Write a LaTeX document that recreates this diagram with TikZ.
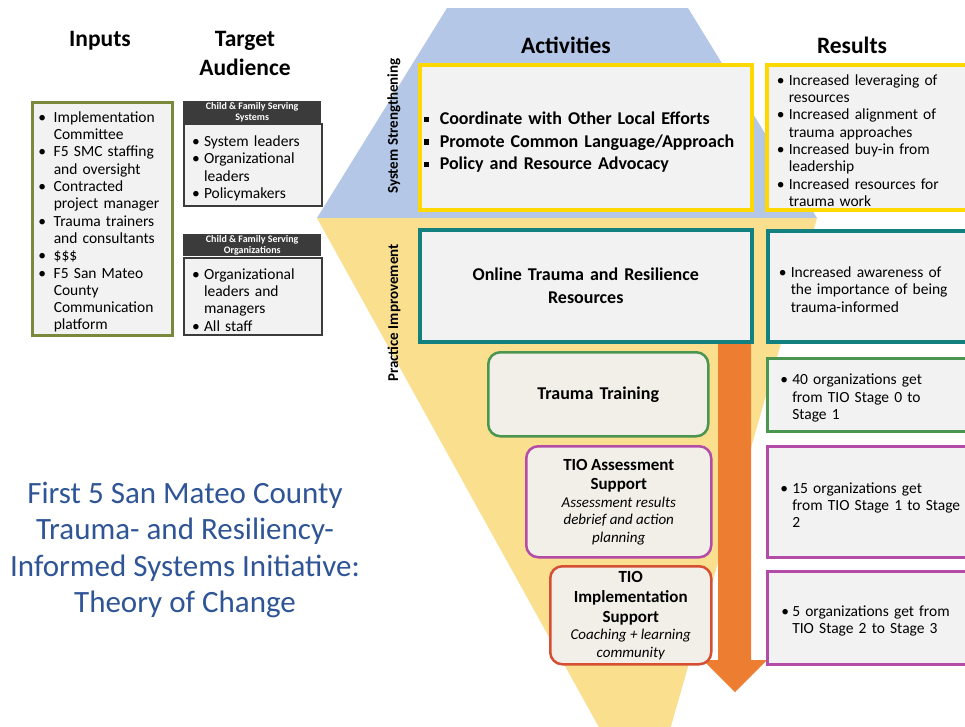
\documentclass[tikz,border=0pt]{standalone}
\usepackage{fontspec}
\setmainfont{Carlito}
\definecolor{trapblue}{HTML}{B4C7E7}
\definecolor{funnelyel}{HTML}{FADF8F}
\definecolor{boxgray}{HTML}{F2F2F2}
\definecolor{creamfill}{HTML}{F1EFE8}
\definecolor{yelborder}{HTML}{FFD800}
\definecolor{tealborder}{HTML}{12807E}
\definecolor{greenborder}{HTML}{4A9650}
\definecolor{magborder}{HTML}{B44BA6}
\definecolor{redborder}{HTML}{D64F33}
\definecolor{arroworange}{HTML}{ED7D31}
\definecolor{oliveborder}{HTML}{7A8A3C}
\definecolor{darkhdr}{HTML}{3B3B3B}
\definecolor{titleblue}{HTML}{2F5597}
\newcommand\bodyfont{\fontsize{15.5}{17.3}\selectfont}
\newcommand\actfont{\fontsize{18}{22.5}\selectfont\bfseries}
\newlength\bhang
\newcommand\myb{\par\noindent\hangindent=\bhang\hangafter=1\makebox[\bhang][l]{\textbullet}}
\newcommand\mysq{\par\noindent\hangindent=16pt\hangafter=1\makebox[16pt][l]{\rule[2.5pt]{5.5pt}{5.5pt}}}
\tikzset{
  framebox/.style={draw, fill=boxgray, anchor=north west, inner ysep=0pt, align=left, font=\bodyfont},
  hdrtext/.style={font=\fontsize{23.5}{29}\selectfont\bfseries, align=center},
  roundbox/.style={draw, fill=creamfill, rounded corners=12pt, line width=2.5pt, anchor=north west, align=center, inner sep=0pt},
  sidelabel/.style={rotate=90, font=\fontsize{15}{18}\selectfont\bfseries},
  tahdr/.style={fill=darkhdr, text=white, anchor=north west, inner sep=0pt, minimum width=138pt, minimum height=22pt, align=center, font=\fontsize{10}{10.5}\selectfont\bfseries},
}
\begin{document}
\begin{tikzpicture}[x=1pt,y=-1pt]
\useasboundingbox (0,0) rectangle (965,726);
\clip (0,0) rectangle (965,726);
\fill[white] (0,0) rectangle (965,726);
% background shapes
\fill[trapblue] (447,8) -- (688,8) -- (817,218) -- (317,218) -- cycle;
\fill[funnelyel] (317,218) -- (817,218) -- (667,740) -- (606,740) -- cycle;
\fill[arroworange] (718,340) -- (751,340) -- (751,660) -- (767,660) -- (735,692) -- (703,660) -- (718,660) -- cycle;
% headers
\node[hdrtext] (hinputs) at (100,41) {Inputs};
\node[hdrtext] (htarget) at (245,53) {Target\\Audience};
\node[hdrtext] (hact) at (566,45) {Activities};
\node[hdrtext] (hres) at (852,45) {Results};
% inputs
\node[framebox, draw=oliveborder, line width=2.5pt, minimum width=140pt, minimum height=233pt, inner xsep=6pt, text width=128pt] (inputs) at (31,101)
{\setlength\bhang{15.5pt}%
 \myb Implementation\newline Committee
 \myb F5 SMC staffing\newline and oversight
 \myb Contracted\newline project manager
 \myb Trauma trainers\newline and consultants
 \myb \$\$\$
 \myb F5 San Mateo\newline County\newline Communication\newline platform\par};
% target audience
\node[tahdr] (tah1) at (183,101) {Child \& Family Serving\\Systems};
\node[framebox, draw=darkhdr, line width=2pt, minimum width=138pt, minimum height=82pt, inner xsep=8pt, text width=122pt] (tab1) at (183,123)
{\setlength\bhang{12pt}%
 \myb System leaders
 \myb Organizational\newline leaders
 \myb Policymakers\par};
\node[tahdr] (tah2) at (183,234) {Child \& Family Serving\\Organizations};
\node[framebox, draw=darkhdr, line width=2pt, minimum width=138pt, minimum height=77pt, inner xsep=8pt, text width=122pt] (tab2) at (183,257)
{\setlength\bhang{12pt}%
 \myb Organizational\newline leaders and\newline managers
 \myb All staff\par};
% side labels
\node[sidelabel] (lsys) at (394,126) {System Strengthening};
\node[sidelabel] (lprac) at (394,313) {Practice Improvement};
% activities
\node[framebox, draw=yelborder, line width=3.5pt, minimum width=332pt, minimum height=145pt, inner xsep=4pt, text width=324pt, font=\actfont] (actsys) at (418,63)
{\mysq Coordinate with Other Local Efforts
 \mysq Promote Common Language/Approach
 \mysq Policy and Resource Advocacy\par};
\node[framebox, draw=tealborder, line width=3.5pt, minimum width=332pt, minimum height=112pt, inner xsep=5pt, text width=322pt, align=center, font=\actfont] (actonline) at (418,228)
{Online Trauma and Resilience\\Resources};
\node[roundbox, draw=greenborder, minimum width=220pt, minimum height=84pt, text width=210pt, font=\actfont] (acttrain) at (487,351) {Trauma Training};
\node[roundbox, draw=magborder, minimum width=185pt, minimum height=111pt, text width=177pt] (actassess) at (525,445)
{{\fontsize{17}{19.5}\selectfont\bfseries TIO Assessment\\Support\par}{\fontsize{15}{17.5}\selectfont\itshape Assessment results\\debrief and action\\planning\par}};
\node[roundbox, draw=redborder, minimum width=161pt, minimum height=98pt, text width=155pt] (actimpl) at (549,565)
{{\fontsize{17}{20}\selectfont\bfseries TIO\\Implementation\\Support\par}{\fontsize{15}{17.5}\selectfont\itshape Coaching + learning\\community\par}};
% results
\node[framebox, draw=yelborder, line width=3.5pt, minimum width=210pt, minimum height=145pt, inner xsep=10pt, text width=190pt] (ressys) at (765,63)
{\setlength\bhang{12pt}%
 \myb Increased leveraging of\newline resources
 \myb Increased alignment of\newline trauma approaches
 \myb Increased buy-in from\newline leadership
 \myb Increased resources for\newline trauma work\par};
\node[framebox, draw=tealborder, line width=3.5pt, minimum width=209pt, minimum height=111pt, inner xsep=11pt, text width=187pt] (resonline) at (766,229)
{\setlength\bhang{12pt}%
 \myb Increased awareness of\newline the importance of being\newline trauma-informed\par};
\node[framebox, draw=greenborder, line width=2.5pt, minimum width=209pt, minimum height=73pt, inner xsep=13pt, text width=183pt] (restrain) at (766,357)
{\setlength\bhang{12pt}%
 \myb 40 organizations get\newline from TIO Stage 0 to\newline Stage 1\par};
\node[framebox, draw=magborder, line width=2.5pt, minimum width=209pt, minimum height=111pt, inner xsep=13pt, text width=183pt] (resassess) at (766,445)
{\setlength\bhang{12pt}%
 \myb 15 organizations get\newline from TIO Stage 1 to Stage\newline 2\par};
\node[framebox, draw=magborder, line width=2.5pt, minimum width=209pt, minimum height=93pt, inner xsep=14pt, text width=181pt] (resimpl) at (766,570)
{\setlength\bhang{11pt}%
 \myb 5 organizations get from\newline TIO Stage 2 to Stage 3\par};
% title
\node[text=titleblue, align=center, font=\fontsize{31}{36.5}\selectfont] (title) at (185,550)
{First 5 San Mateo County\\Trauma- and Resiliency-\\Informed Systems Initiative:\\Theory of Change};
\end{tikzpicture}
\end{document}
